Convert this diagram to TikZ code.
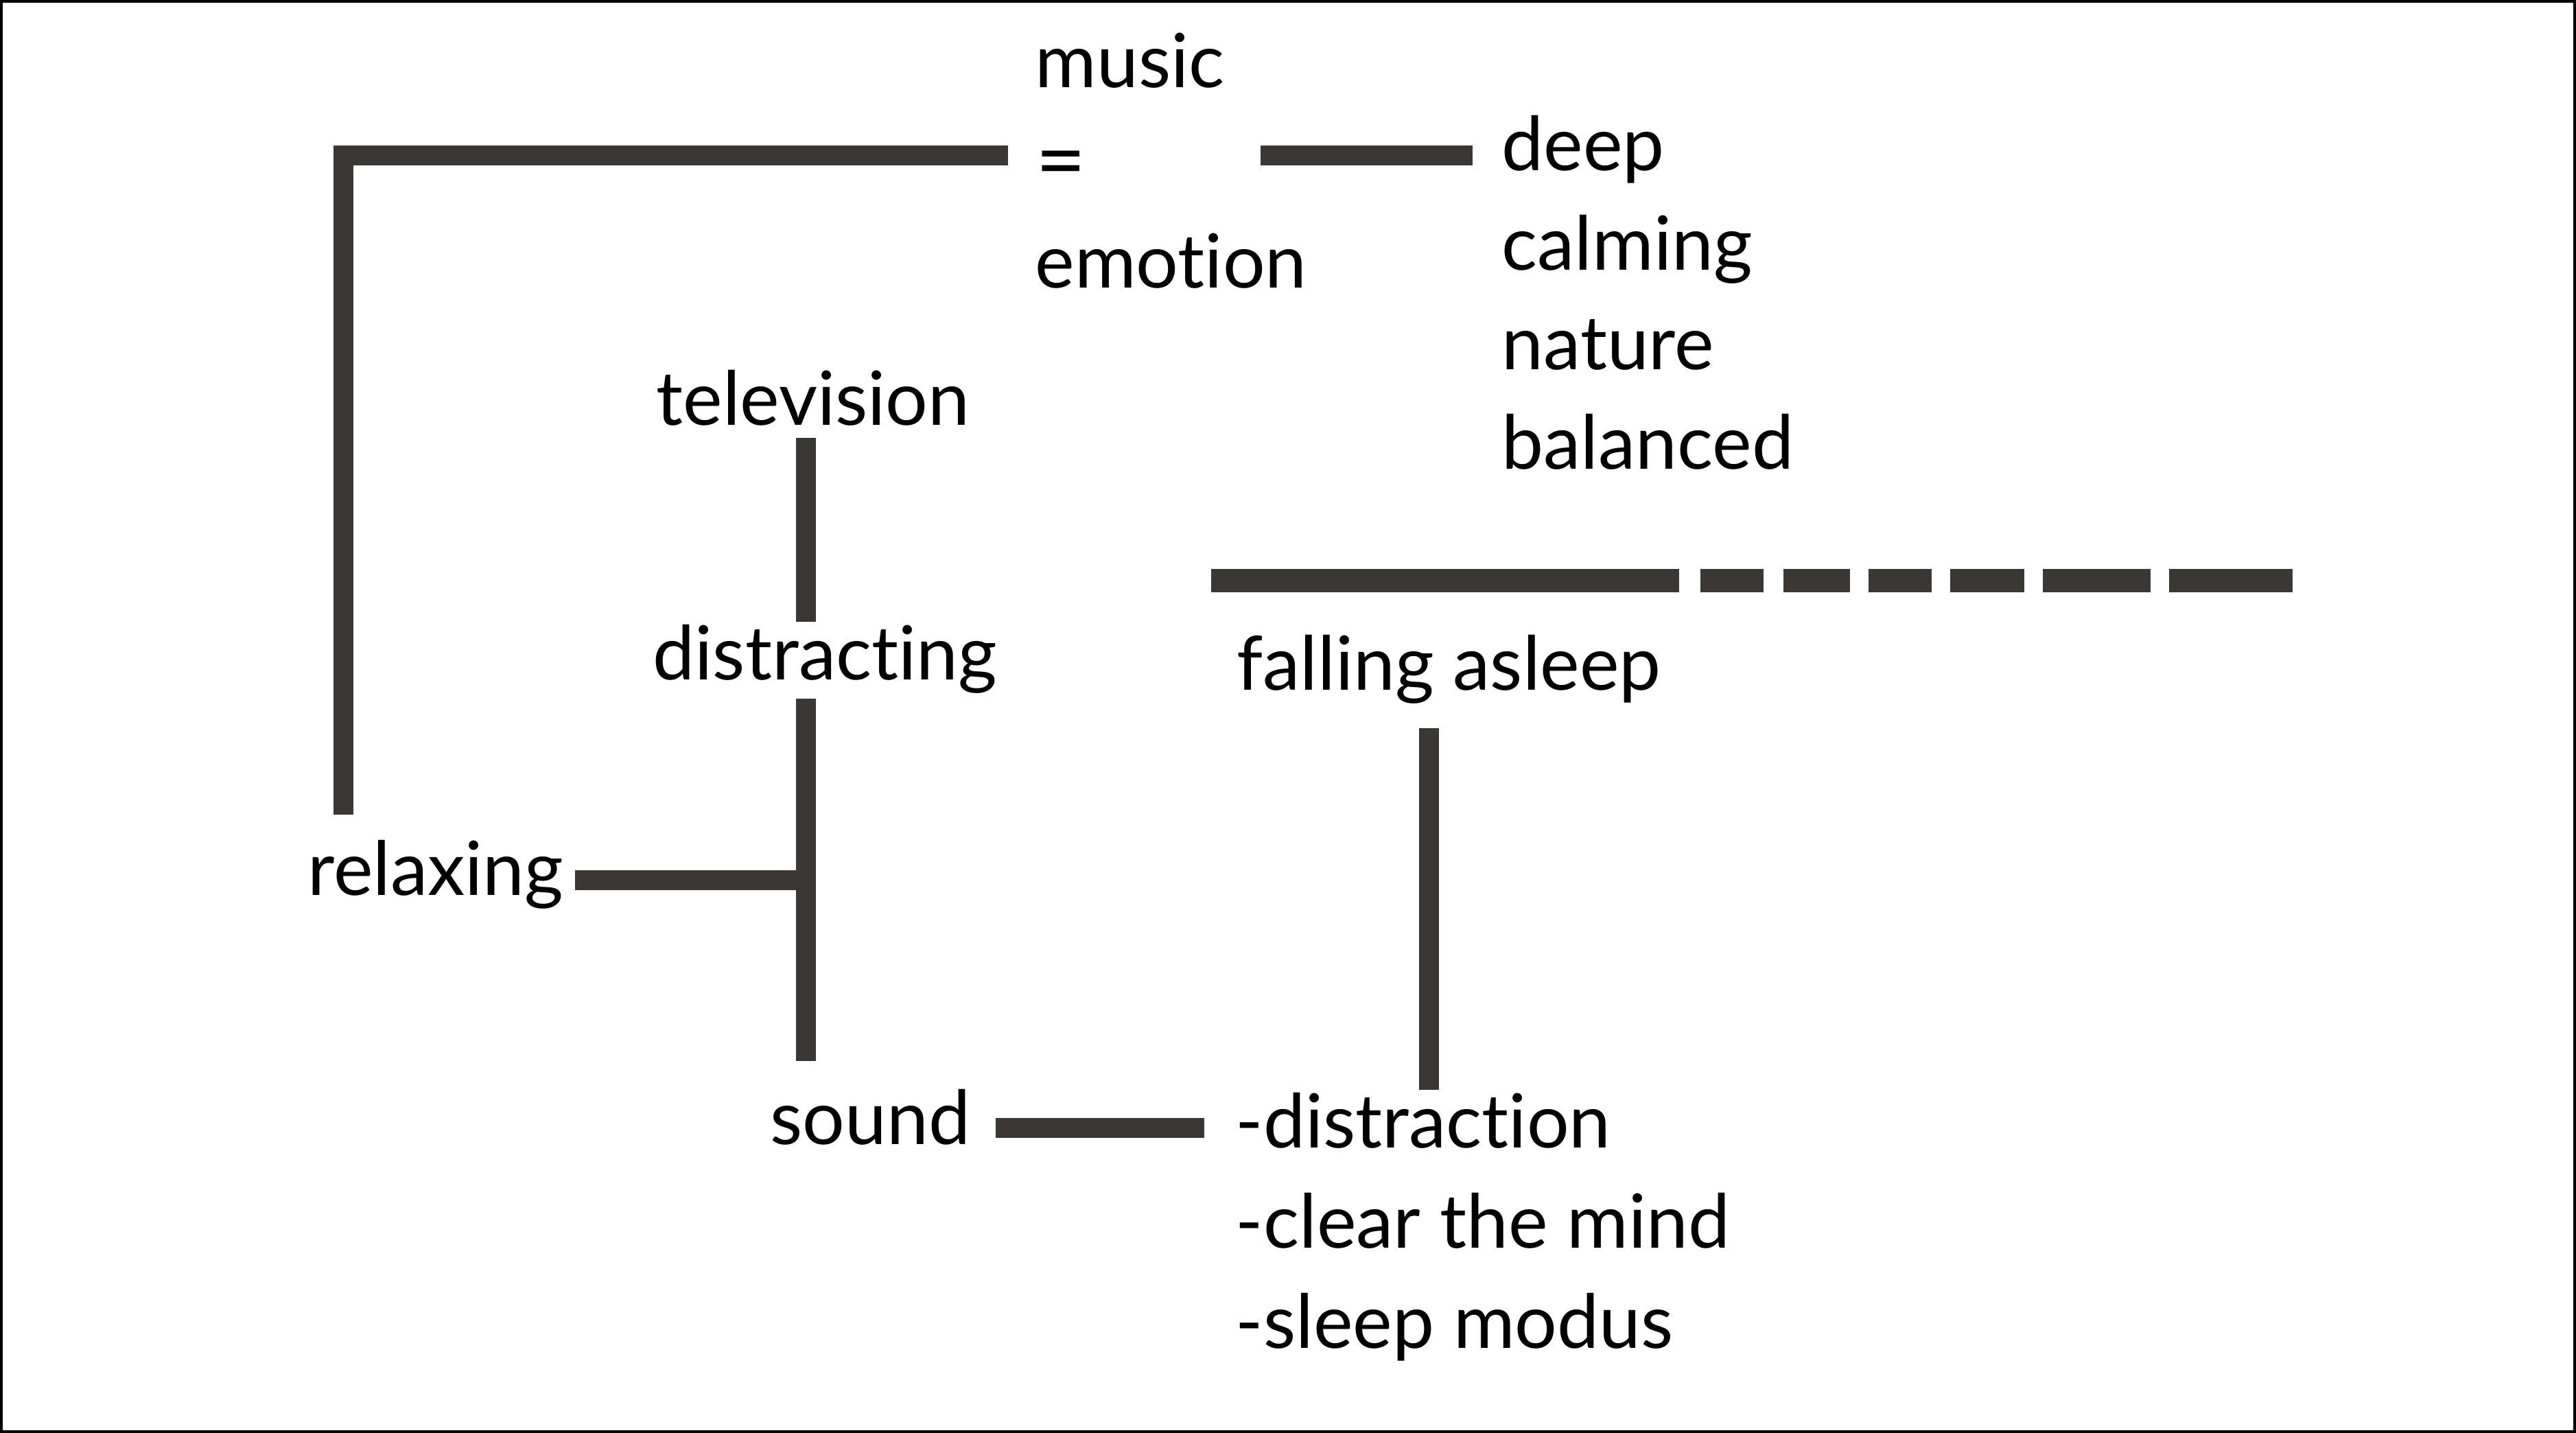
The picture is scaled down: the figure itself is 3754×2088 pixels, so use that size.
\documentclass[tikz,border=0pt]{standalone}
\usepackage{fontspec}
\setmainfont{Lato}[Ligatures=NoCommon]
\usetikzlibrary{positioning}

\definecolor{bargray}{RGB}{58,56,53}

\tikzset{
    word/.style={anchor=base west, inner sep=0pt, text=black, font=\fontsize{31}{37}\selectfont},
    bar/.style={draw=bargray, line width=2.9mm},
}

\begin{document}
\begin{tikzpicture}[x=0.1mm, y=-0.1mm]

\useasboundingbox (0,0) rectangle (3754,2088);
\draw [line width=0.4mm] (2,2) rectangle (3752,2086);

\node [word] (music) at (1508,127) {music};
\node [word, font=\fontsize{36}{40}\selectfont] (eq) at (1509,277) {=};
\node [word] (emotion) at (1508,419) {emotion};

\foreach \w [count=\i from 0] in {deep,calming,nature,balanced}
    \node [word] (q\i) at (2188,248+145*\i) {\w};

\node [word] (tv) at (956,619) {television};
\node [word] (dist) at (951,990) {distracting};
\node [word] (relax) at (448,1304) {relaxing};
\node [word] (sound) at (1122,1667) {sound};
\node [word] (fall) at (1802,1005) {falling asleep};

\foreach \w [count=\i from 0] in {-distraction,-clear the mind,-sleep modus}
    \node [word] (d\i) at (1800,1672+146*\i) {\w};

% music = emotion
\draw [bar, line join=miter] ([shift={(-39,99)}]music.base west) -| ([shift={(52,-117)}]relax.base west);
\draw [bar] ([shift={(329,99)}]music.base west) -- ([shift={(-42,-22)}]q0.base west);

% television / distracting / sound
\draw [bar] ([shift={(218,19)}]tv.base west) -- ([shift={(223,-84)}]dist.base west);
\draw [bar] ([shift={(223,28)}]dist.base west) -- ([shift={(52,-121)}]sound.base west);
\draw [bar] ([shift={(390,-22)}]relax.base west) -- ([shift={(52,-385)}]sound.base west);
\draw [bar] ([shift={(329,-24)}]sound.base west) -- ([shift={(-45,-29)}]d0.base west);

% falling asleep
\draw [bar] ([shift={(280,56)}]fall.base west) -- ([shift={(282,-84)}]d0.base west);
\draw [bar, line width=3.4mm] ([shift={(-37,-159)}]fall.base west) -- ([shift={(645,-159)}]fall.base west);
\foreach \a/\b in {676/768, 797/894, 921/1013, 1040/1148, 1175/1332, 1359/1539}
    \draw [bar, line width=3.4mm] ([shift={(\a,-159)}]fall.base west) -- ([shift={(\b,-159)}]fall.base west);

\end{tikzpicture}
\end{document}
